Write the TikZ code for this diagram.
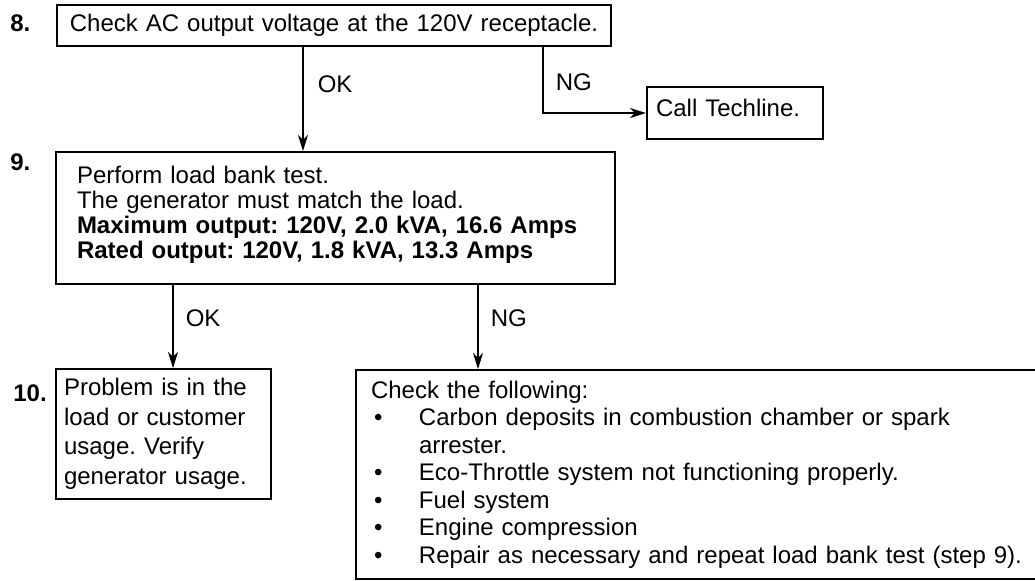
\documentclass[tikz,border=0pt]{standalone}
\usepackage{fontspec}
\setmainfont{Liberation Sans}
\usepackage{tikz}
\usetikzlibrary{arrows.meta, positioning, calc}
\frenchspacing

\begin{document}
\begin{tikzpicture}[
    x=0.5pt, y=-0.5pt,
    box/.style={draw, line width=1pt, anchor=north west, inner ysep=0pt, align=left},
    steplabel/.style={font=\fontsize{12}{14}\selectfont\bfseries, anchor=west, inner sep=0pt},
    branch/.style={font=\fontsize{12}{14}\selectfont, inner sep=0pt},
    flow/.style={->, line width=0.8pt},
    >={Stealth[length=8pt, width=5pt, inset=2.5pt]},
    font=\fontsize{12}{14}\selectfont
]
  \useasboundingbox (0,0) rectangle (1035,580);
  \clip (0,0) rectangle (1035,580);

  % Step 8
  \node[box, minimum width=277pt, minimum height=20.5pt, text width=265pt, inner xsep=6pt, align=center] (b8) at (56,4) {Check AC output voltage at the 120V receptacle.};
  \node[steplabel] (s8) at (10,23) {8.};

  \node[box, minimum width=88pt, minimum height=26pt, text width=79pt, inner xsep=4.5pt] (call) at (646,86) {Call Techline.\rule[-5pt]{0pt}{5pt}};

  % Step 9
  \node[box, minimum width=279.5pt, minimum height=66pt, text width=258.5pt, inner xsep=10.5pt, font=\fontsize{12}{12.5}\selectfont] (b9) at (55,151) {Perform load bank test.\\The generator must match the load.\\\textbf{Maximum output: 120V, 2.0 kVA, 16.6 Amps}\\\textbf{Rated output: 120V, 1.8 kVA, 13.3 Amps}\rule[-6pt]{0pt}{6pt}};
  \node[steplabel] (s9) at (10,162) {9.};

  % Step 10
  \node[box, minimum width=107.5pt, minimum height=65pt, text width=99.5pt, inner xsep=4pt, font=\fontsize{12}{14.75}\selectfont] (b10) at (55,368) {Problem is in the\\load or customer\\usage. Verify\\generator usage.};
  \node[steplabel] (s10) at (13,393) {10.};

  \node[box, minimum width=345pt, minimum height=104.5pt, text width=330pt, inner xsep=7.5pt, font=\fontsize{12}{13.75}\selectfont] (chk) at (355,369) {Check the following:\\
    \hspace*{1.5pt}\makebox[22.5pt][l]{\textbullet}Carbon deposits in combustion chamber or spark\\
    \hspace*{24pt}arrester.\\
    \hspace*{1.5pt}\makebox[22.5pt][l]{\textbullet}Eco-Throttle system not functioning properly.\\
    \hspace*{1.5pt}\makebox[22.5pt][l]{\textbullet}Fuel system\\
    \hspace*{1.5pt}\makebox[22.5pt][l]{\textbullet}Engine compression\\
    \hspace*{1.5pt}\makebox[22.5pt][l]{\textbullet}Repair as necessary and repeat load bank test (step 9).};

  % Connectors
  \coordinate (okA) at (303,0);
  \coordinate (ngA) at (543,0);
  \coordinate (okB) at (173,0);
  \coordinate (ngB) at (478,0);

  \draw[flow] (b8.south -| okA) -- node[branch, pos=0.36, right=7pt] (ok1) {OK} (b9.north -| okA);
  \draw[flow] (b8.south -| ngA) |- node[branch, pos=0.265, right=6pt] (ng1) {NG} (call.west);
  \draw[flow] (b9.south -| okB) -- node[branch, pos=0.4, right=6pt] (ok2) {OK} (b10.north -| okB);
  \draw[flow] (b9.south -| ngB) -- node[branch, pos=0.4, right=6pt] (ng2) {NG} (chk.north -| ngB);
\end{tikzpicture}
\end{document}
